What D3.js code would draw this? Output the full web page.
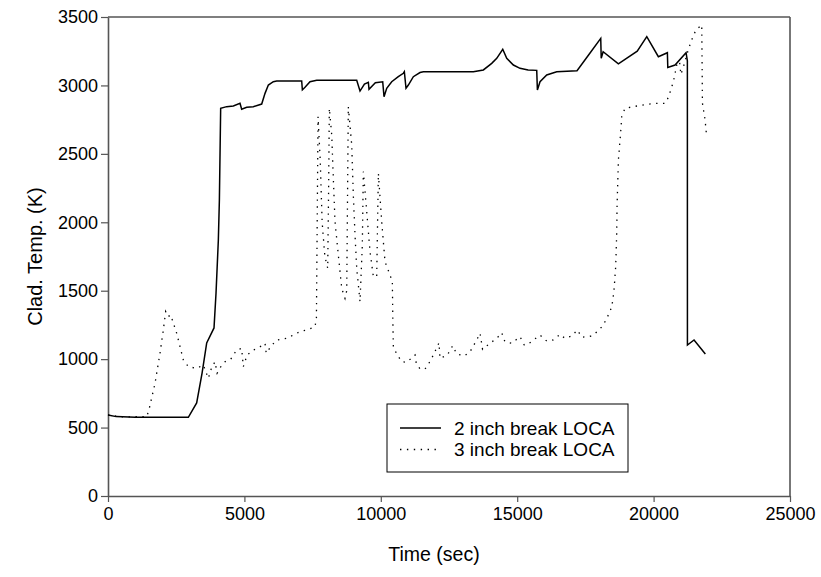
<!DOCTYPE html>
<html>
<head>
<meta charset="utf-8">
<script src="https://cdn.jsdelivr.net/npm/d3@7"></script>
<style>
  html, body { margin: 0; padding: 0; background: #fff; }
  svg { display: block; }
  text { font-family: "Liberation Sans", Arial, sans-serif; fill: #000; }
</style>
</head>
<body>
<svg id="chart" width="821" height="577"></svg>
<script>
// ---- data ----
const xTicks = [0, 5000, 10000, 15000, 20000, 25000];
const yTicks = [0, 500, 1000, 1500, 2000, 2500, 3000, 3500];
const seriesNames = ["2 inch break LOCA", "3 inch break LOCA"];

const loca2 = [
  [0, 592], [300, 580], [1000, 576], [2945, 575], [3250, 680], [3450, 900],
  [3618, 1118], [3886, 1228], [3960, 1483], [4045, 1870], [4083, 2163], [4130, 2833],
  [4350, 2845], [4594, 2850], [4839, 2869], [4900, 2826], [5084, 2840], [5327, 2845],
  [5634, 2864], [5756, 2942], [5878, 3003], [6060, 3027], [6185, 3032], [7100, 3032],
  [7125, 2967], [7222, 2986], [7405, 3027], [7650, 3037], [9117, 3037], [9238, 2959],
  [9400, 3010], [9543, 3023], [9568, 2972], [9800, 3020], [10070, 3027], [10118, 2918],
  [10217, 2979], [10400, 3027], [10642, 3064], [10826, 3089], [10863, 3100], [10924, 2979],
  [11010, 3003], [11193, 3064], [11438, 3094], [11560, 3100], [13393, 3100], [13760, 3113],
  [14066, 3161], [14250, 3198], [14470, 3264], [14616, 3198], [14860, 3149], [15104, 3125],
  [15400, 3113], [15716, 3110], [15740, 2967], [15837, 3027], [16082, 3076], [16449, 3100],
  [17193, 3108], [17670, 3237], [18062, 3344], [18080, 3198], [18150, 3246], [18709, 3157],
  [19400, 3250], [19750, 3356], [20175, 3210], [20505, 3239], [20520, 3132], [20786, 3149],
  [21190, 3239], [21238, 3180], [21240, 1103], [21483, 1140], [21897, 1038]
];

const loca3 = [
  [0, 592], [500, 578], [1418, 580], [1500, 628], [1723, 823], [1906, 1043], [2028, 1213],
  [2114, 1347], [2200, 1310], [2298, 1323], [2400, 1260], [2518, 1189], [2640, 1091],
  [2762, 994], [2945, 945], [3250, 933], [3495, 957], [3600, 900], [3679, 860], [3800, 940],
  [3923, 981], [4000, 897], [4150, 950], [4289, 981], [4500, 1000], [4717, 1067], [4900, 1079],
  [4960, 945], [5100, 1030], [5327, 1067], [5500, 1080], [5756, 1116], [5800, 1043],
  [6000, 1100], [6185, 1140], [6551, 1152], [7039, 1201], [7300, 1215], [7589, 1237],
  [7640, 1300], [7700, 2772], [7780, 2450], [7850, 2000], [7950, 1750], [8054, 1664],
  [8090, 2300], [8113, 2833], [8201, 2638], [8260, 2321], [8322, 2004], [8443, 1761],
  [8567, 1518], [8688, 1444], [8751, 1500], [8809, 2845], [8934, 2565], [8993, 2199],
  [9055, 1907], [9117, 1664], [9238, 1420], [9323, 1834], [9360, 2370], [9484, 2078],
  [9605, 1785], [9727, 1603], [9850, 1603], [9911, 2358], [10033, 2004], [10155, 1712],
  [10338, 1615], [10423, 1566], [10440, 1300], [10460, 1091], [10583, 1038], [10767, 981],
  [10950, 977], [11255, 1030], [11300, 970], [11438, 928], [11621, 928], [11750, 965],
  [11927, 1030], [12134, 1120], [12170, 1006], [12440, 1030], [12636, 1098], [12780, 1038],
  [13063, 1023], [13270, 1054], [13516, 1140], [13638, 1189], [13730, 1072], [14004, 1116],
  [14250, 1152], [14433, 1193], [14550, 1127], [14800, 1116], [15104, 1164], [15260, 1103],
  [15470, 1120], [15837, 1176], [16082, 1132], [16326, 1140], [16570, 1181], [16753, 1152],
  [17000, 1169], [17206, 1213], [17370, 1160], [17548, 1164], [17731, 1169], [17975, 1208],
  [18160, 1250], [18343, 1323], [18470, 1383], [18550, 1505], [18610, 1676], [18648, 1919],
  [18660, 2114], [18710, 2455], [18790, 2650], [18832, 2772], [18950, 2833], [19257, 2845],
  [19750, 2862], [20115, 2869], [20420, 2869], [20542, 2913], [20725, 3027], [20850, 3150],
  [20950, 3175], [21000, 3080], [21100, 3140], [21250, 3246], [21370, 3320], [21550, 3405],
  [21765, 3442], [21770, 3330], [21780, 3110], [21790, 2870], [21886, 2750], [21948, 2620]
];

// ---- layout ----
const svg = d3.select("#chart");
const L = 108, R = 790, T = 17, B = 496;
const x = d3.scaleLinear().domain([0, 25000]).range([L, R]);
const y = d3.scaleLinear().domain([0, 3500]).range([B, T]);

const frameColor = "#555";

// frame top & right
svg.append("line").attr("x1", L).attr("x2", R).attr("y1", T).attr("y2", T)
  .attr("stroke", frameColor).attr("stroke-width", 1.3);
svg.append("line").attr("x1", R).attr("x2", R).attr("y1", T).attr("y2", B)
  .attr("stroke", frameColor).attr("stroke-width", 1.6);

// axes
const xAxis = d3.axisBottom(x).tickValues(xTicks).tickSize(6).tickSizeOuter(0).tickFormat(d3.format("d"));
const yAxis = d3.axisLeft(y).tickValues(yTicks).tickSize(7).tickSizeOuter(0).tickFormat(d3.format("d"));

const gx = svg.append("g").attr("transform", `translate(0,${B})`).call(xAxis);
const gy = svg.append("g").attr("transform", `translate(${L},0)`).call(yAxis);

[gx, gy].forEach(g => {
  g.select(".domain").attr("stroke", frameColor).attr("stroke-width", 1.6);
  g.selectAll(".tick line").attr("stroke", frameColor).attr("stroke-width", 1.2);
  g.selectAll(".tick text")
    .style("font-family", '"Liberation Sans", Arial, sans-serif')
    .style("font-size", "18px").attr("fill", "#000");
});
gx.selectAll(".tick text").attr("dy", "0.71em").attr("y", 11);
gy.selectAll(".tick text").attr("x", -10);

// axis titles
svg.append("text").attr("x", 434).attr("y", 561)
  .attr("text-anchor", "middle").style("font-size", "19.5px").text("Time (sec)");
svg.append("text")
  .attr("transform", `translate(42,${(T + B) / 2}) rotate(-90)`)
  .attr("text-anchor", "middle").style("font-size", "20px").text("Clad. Temp. (K)");

// lines
const line = d3.line().x(d => x(d[0])).y(d => y(d[1]));
svg.append("path").datum(loca2).attr("d", line)
  .attr("fill", "none").attr("stroke", "#000").attr("stroke-width", 1.5)
  .attr("stroke-linejoin", "miter");
svg.append("path").datum(loca3).attr("d", line)
  .attr("fill", "none").attr("stroke", "#000").attr("stroke-width", 1.3)
  .attr("stroke-dasharray", "1.4 5.5");

// legend
const lg = svg.append("g");
lg.append("rect").attr("x", 387).attr("y", 404).attr("width", 241).attr("height", 68)
  .attr("fill", "#fff").attr("stroke", "#000").attr("stroke-width", 1);
const styles = [{dash: null, w: 1.5}, {dash: "1.4 5.5", w: 1.3}];
seriesNames.forEach((name, i) => {
  const yy = 428 + i * 21.5;
  lg.append("line").attr("x1", 400).attr("x2", 441).attr("y1", yy).attr("y2", yy)
    .attr("stroke", "#000").attr("stroke-width", styles[i].w)
    .attr("stroke-dasharray", styles[i].dash);
  lg.append("text").attr("x", 454).attr("y", yy + 6.5).style("font-size", "19px").text(name);
});
</script>
</body>
</html>
